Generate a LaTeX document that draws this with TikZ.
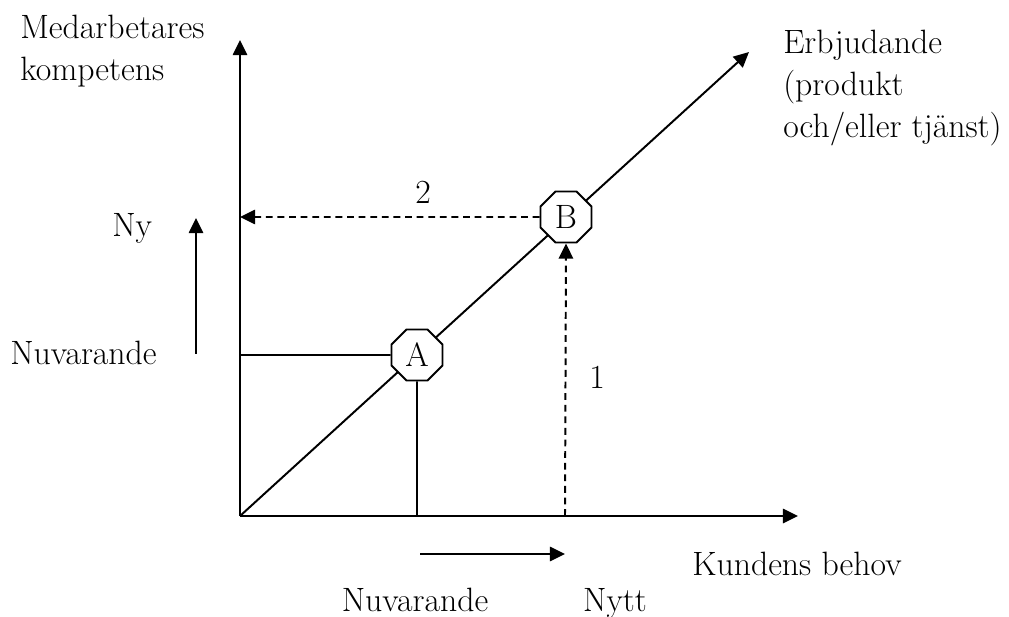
\documentclass[tikz,border=0pt]{standalone}
\usepackage{tikz}
\usetikzlibrary{arrows.meta,positioning,shapes.geometric}
\tikzset{
  lbl/.style={font=\fontsize{24}{30}\selectfont,inner sep=0pt,align=left},
  oct/.style={regular polygon,regular polygon sides=8,draw,line width=1.4pt,
    fill=white,minimum size=1.38cm,inner sep=0pt,font=\fontsize{24}{30}\selectfont},
  arr/.style={-{Triangle[length=0.38cm,width=0.36cm]},line width=1.4pt},
  dsh/.style={arr,dash pattern=on 0.17cm off 0.12cm},
}

\begin{document}
\begin{tikzpicture}[x=0.025cm,y=-0.025cm]
    \useasboundingbox (0,0) rectangle (1009,617);

    % axes
    \coordinate (O) at (240,516);
    \coordinate (ytip) at (240,40);
    \coordinate (xtip) at (798,516);
    \coordinate (dtip) at (749,52);
    \draw[arr] (O) -- (ytip);
    \draw[arr] (O) -- (xtip);
    \draw[arr] (O) -- (dtip);

    \node[oct] (A) at (417,355) {A};
    \node[oct] (B) at (566,217) {B};

    \coordinate (aleft) at (240,355);
    \coordinate (abot) at (417,516);
    \draw[line width=1.4pt] (aleft) -- (A.west);
    \draw[line width=1.4pt] (A.south) -- (abot);

    \coordinate (bbot) at (565,516);
    \coordinate (bleft) at (240,217);
    \draw[dsh] (bbot) -- (B.south);
    \draw[dsh] (B.west) -- (bleft);

    % labels
    \node[lbl,anchor=west] (yname) at (20,51) {Medarbetares\\kompetens};
    \node[lbl,anchor=west] (dname) at (783,88) {Erbjudande\\(produkt\\och/eller tjänst)};
    \node[lbl,anchor=base west] (xname) at (692,575) {Kundens behov};
    \node[lbl,anchor=base west] (ny) at (112,237) {Ny};
    \node[lbl,anchor=base west] (ynuv) at (10,365) {Nuvarande};
    \node[lbl,anchor=base] (xnuv) at (415,611) {Nuvarande};
    \node[lbl,anchor=base] (nytt) at (615,611) {Nytt};
    \node[lbl,anchor=base] (two) at (423,204) {2};
    \node[lbl,anchor=base] (one) at (597,389) {1};

    % direction arrows
    \coordinate (ys) at (196,354);
    \coordinate (ye) at (196,218);
    \draw[arr] (ys) -- (ye);
    \coordinate (xs) at (420,554);
    \coordinate (xe) at (565,554);
    \draw[arr] (xs) -- (xe);
\end{tikzpicture}
\end{document}
